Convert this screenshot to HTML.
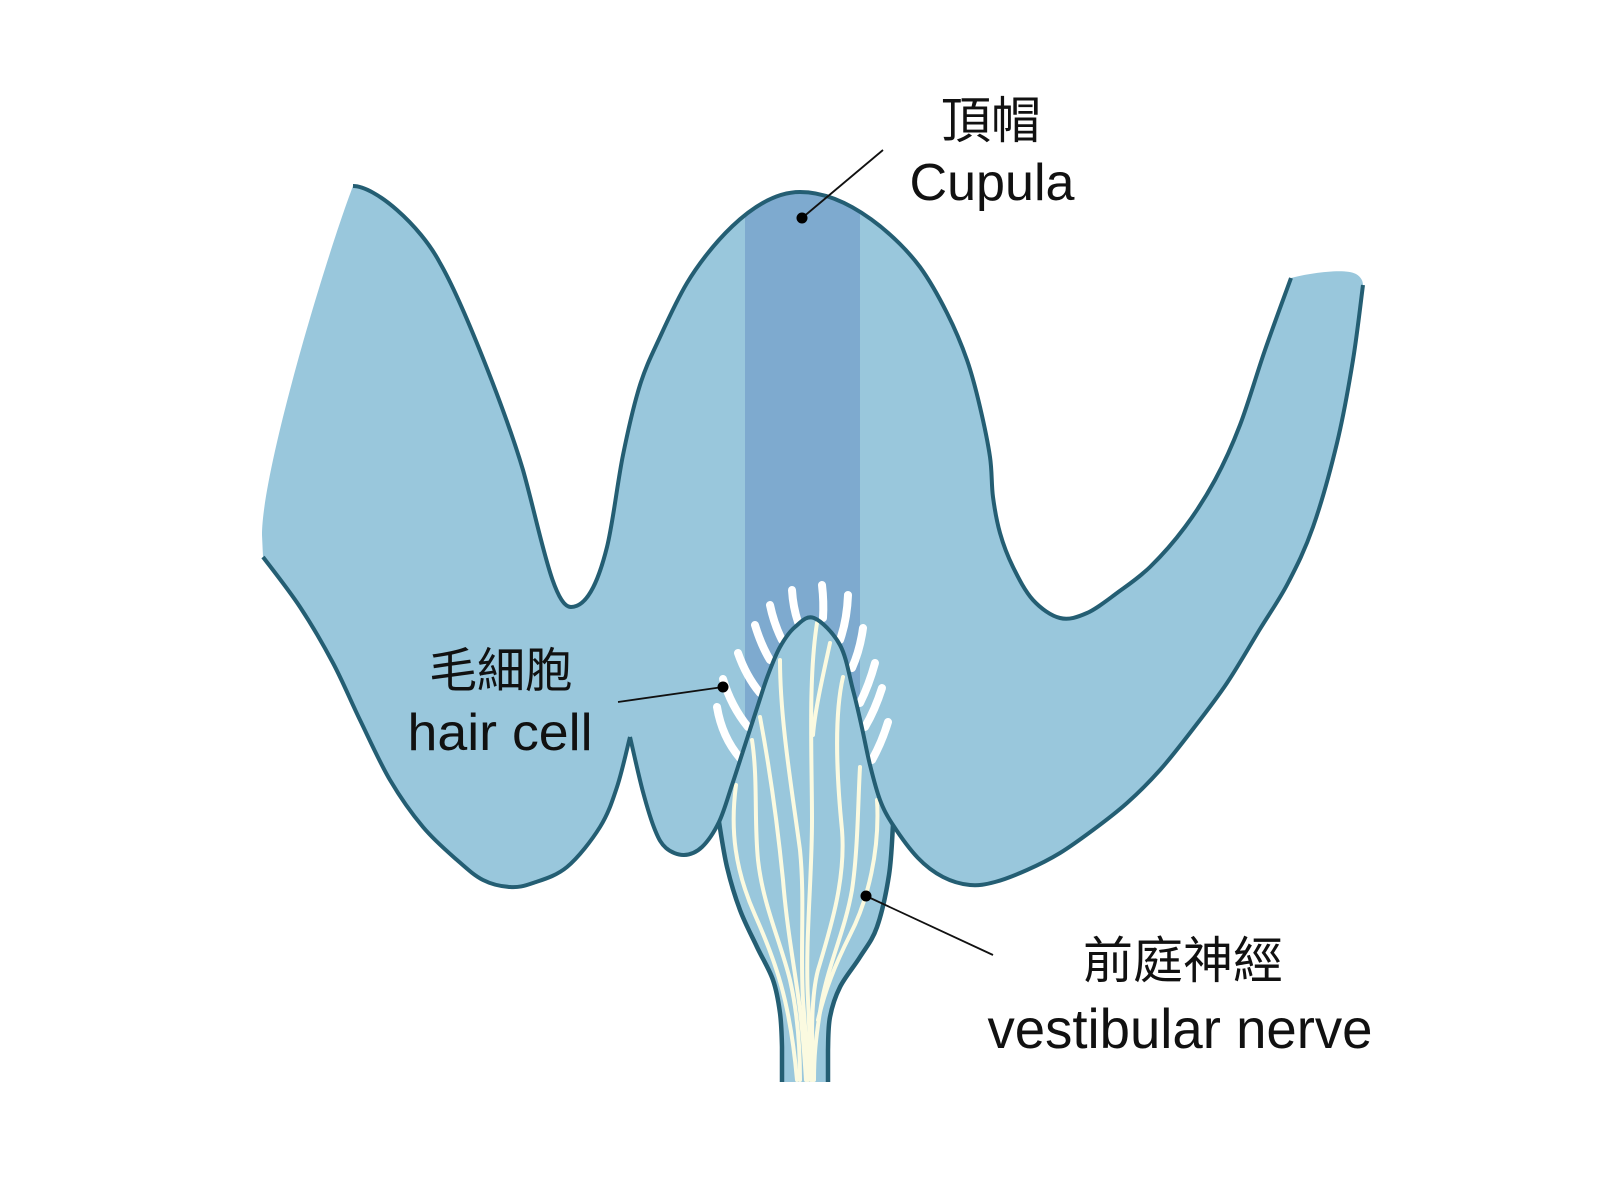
<!DOCTYPE html>
<html><head><meta charset="utf-8">
<style>html,body{margin:0;padding:0;background:#fff;width:1600px;height:1185px;overflow:hidden}</style>
</head><body>
<svg width="1600" height="1185" viewBox="0 0 1600 1185" xmlns="http://www.w3.org/2000/svg">
<defs>
<path id="bodyp" d="M353,186 C375,186 420,225 440,263 C462,301 505,410 523,470 C540,530 553,607 571,607 C589,607 600,575 607,547 C613,522.8 617.5,482 623,455 C628.5,428 633.8,404.7 640,385 C646.2,365.3 652.2,354 660,337 C667.8,320 677,299.7 687,283 C705,253 752,192 800,192 C850,192 900,240 920,267 C930,280.8 939.2,297.5 947,313 C954.8,328.5 961.5,344.3 967,360 C972.5,375.7 976.2,390.8 980,407 C983.8,423.2 987.8,442 990,457 C992.2,472 991.3,484.3 993,497 C994.7,509.7 996.7,521.3 1000,533 C1003.3,544.7 1007.5,555.8 1013,567 C1018.5,578.2 1025.2,591.5 1033,600 C1040.8,608.5 1051,615.8 1060,618 C1069,620.2 1077.5,617.2 1087,613 C1096.5,608.8 1106.5,600.7 1117,593 C1127.5,585.3 1138.7,578 1150,567 C1161.3,556 1174.2,541.5 1185,527 C1195.8,512.5 1205.8,497 1215,480 C1224.2,463 1231.7,446.7 1240,425 C1248.3,403.3 1256.5,374.5 1265,350 C1273.5,325.5 1286.7,290 1291,278 C1310,273 1345,268 1356,274 C1361,277 1363,281 1363,285 C1361.3,297.5 1357.3,333.7 1353,360 C1348.7,386.3 1343.7,415.2 1337,443 C1330.3,470.8 1321.2,503.7 1313,527 C1304.8,550.3 1296.8,566 1288,583 C1279.2,600 1270.2,612.3 1260,629 C1249.8,645.7 1238.2,666.3 1227,683 C1215.8,699.7 1204.2,714.5 1193,729 C1181.8,743.5 1171,757.7 1160,770 C1149,782.3 1138.2,793 1127,803 C1115.8,813 1104.2,821.7 1093,830 C1081.8,838.3 1071,846.3 1060,853 C1049,859.7 1037.8,865.2 1027,870 C1016.2,874.8 1004.5,879.5 995,882 C985.5,884.5 978.7,885.8 970,885 C961.3,884.2 951.7,881.5 943,877 C934.3,872.5 926.3,866.7 918,858 C909.7,849.3 899.3,834.7 893,825 C886.7,815.3 883.8,810 880,800 C876.2,790 873,777 870,765 C867,753 864.8,740.5 862,728 C859.2,715.5 856.7,703.8 853,690 C849.3,676.2 846.5,657 840,645 C833.5,633 821.5,621 814,618 C806.5,615 800.7,622.2 795,627 C789.3,631.8 784.5,639 780,647 C775.5,655 771.7,665.3 768,675 C764.3,684.7 761.8,693.3 758,705 C754.2,716.7 749.3,731.7 745,745 C740.7,758.3 736.3,772.2 732,785 C727.7,797.8 724,811.7 719,822 C714,832.3 707.8,841.5 702,847 C696.2,852.5 690,854.8 684,855 C678,855.2 670.8,852.2 666,848 C661.2,843.8 658.8,839.3 655,830 C651.2,820.7 647.2,807.5 643,792 C638.8,776.5 632.2,746.2 630,737 C627.8,745.3 622,772 617,787 C612,802 608.3,813.7 600,827 C591.7,840.3 578.2,857.7 567,867 C555.8,876.3 542.5,879.7 533,883 C523.5,886.3 518.3,887.5 510,887 C501.7,886.5 491.8,884.5 483,880 C474.2,875.5 467,868.8 457,860 C447,851.2 434.2,840.3 423,827 C411.8,813.7 400.5,797.8 390,780 C379.5,762.2 369.5,739.5 360,720 C350.5,700.5 343,681.8 333,663 C323,644.2 311.7,624.7 300,607 C288.3,589.3 269.2,565.3 263,557 L262,535 C262,470 325,260 353,186 Z"/>
<clipPath id="cb"><use href="#bodyp"/></clipPath>
</defs>

<!-- body fill -->
<use href="#bodyp" fill="#99c7dc"/>

<!-- cupula band -->
<rect x="745" y="180" width="115" height="545" fill="#7eaacf" clip-path="url(#cb)"/>

<!-- hairs -->
<g fill="none" stroke="#ffffff" stroke-width="8" stroke-linecap="round">
<path d="M717,707 Q722,737 740,758"/>
<path d="M723,679 Q731,706 748,727"/>
<path d="M738,653 Q746,676 760,693"/>
<path d="M755,625 Q761,645 770,660"/>
<path d="M770,605 Q774,624 782,640"/>
<path d="M792,590 Q793,607 798,622"/>
<path d="M822,585 Q824,602 823,618"/>
<path d="M848,595 Q847,620 840,640"/>
<path d="M863,628 Q860,650 852,668"/>
<path d="M875,663 Q869,685 860,703"/>
<path d="M882,688 Q875,710 865,727"/>
<path d="M888,722 Q882,742 872,760"/>
</g>

<!-- nerve fill (mound + tube) -->
<path fill="#99c7dc" d="M719,822 C720.3,829.5 723.5,852.3 727,867 C730.5,881.7 735,896.7 740,910 C745,923.3 751.5,935.3 757,947 C762.5,958.7 769.2,969 773,980 C776.8,991 778.5,1001.8 780,1013 C781.5,1024.2 781.7,1035.5 782,1047 C782,1053 782,1076 782,1082 L828,1082 C828,1076.7 828,1055.3 828,1050 C828.3,1039.2 828,1027.5 830,1017 C832,1006.5 835,997 840,987 C845,977 853.8,967 860,957 C866.2,947 872.2,940.7 877,927 C881.8,913.3 886.3,892.3 889,875 C891.7,857.7 892.3,833.7 893,825 C886.7,815.3 883.8,810 880,800 C876.2,790 873,777 870,765 C867,753 864.8,740.5 862,728 C859.2,715.5 856.7,703.8 853,690 C849.3,676.2 846.5,657 840,645 C833.5,633 821.5,621 814,618 C806.5,615 800.7,622.2 795,627 C789.3,631.8 784.5,639 780,647 C775.5,655 771.7,665.3 768,675 C764.3,684.7 761.8,693.3 758,705 C754.2,716.7 749.3,731.7 745,745 C740.7,758.3 736.3,772.2 732,785 C727.7,797.8 724,811.7 719,822 Z"/>

<!-- nerve fibers -->
<g fill="none" stroke="#fbfae0" stroke-width="4" stroke-linecap="round">
<path d="M736,785 C730,830 735,870 755,915 C775,960 790,1000 797,1080"/>
<path d="M752,740 C758,780 754,820 758,860 C763,905 780,940 790,980 C798,1015 800,1050 800,1080"/>
<path d="M760,717 C770,770 778,830 783,880 C787,930 795,970 800,1010 C804,1045 805,1065 806,1080"/>
<path d="M780,660 C780,720 792,790 800,850 C805,900 800,950 803,1000 C806,1040 808,1060 808,1080"/>
<path d="M817,623 C808,680 812,760 812,820 C812,880 805,940 808,1000 C810,1040 810,1060 811,1080"/>
<path d="M830,643 C822,680 815,710 813,735"/>
<path d="M843,677 C833,720 838,790 842,830 C846,880 830,930 818,970 C810,1000 812,1050 813,1080"/>
<path d="M860,767 C858,800 858,850 852,890 C845,930 830,960 822,1000 C815,1040 814,1060 814,1080"/>
<path d="M877,800 C880,850 868,900 850,935 C835,965 825,990 818,1020"/>
</g>

<!-- outlines -->
<g fill="none" stroke="#245e73" stroke-width="4" stroke-linejoin="round">
<path d="M353,186 C375,186 420,225 440,263 C462,301 505,410 523,470 C540,530 553,607 571,607 C589,607 600,575 607,547 C613,522.8 617.5,482 623,455 C628.5,428 633.8,404.7 640,385 C646.2,365.3 652.2,354 660,337 C667.8,320 677,299.7 687,283 C705,253 752,192 800,192 C850,192 900,240 920,267 C930,280.8 939.2,297.5 947,313 C954.8,328.5 961.5,344.3 967,360 C972.5,375.7 976.2,390.8 980,407 C983.8,423.2 987.8,442 990,457 C992.2,472 991.3,484.3 993,497 C994.7,509.7 996.7,521.3 1000,533 C1003.3,544.7 1007.5,555.8 1013,567 C1018.5,578.2 1025.2,591.5 1033,600 C1040.8,608.5 1051,615.8 1060,618 C1069,620.2 1077.5,617.2 1087,613 C1096.5,608.8 1106.5,600.7 1117,593 C1127.5,585.3 1138.7,578 1150,567 C1161.3,556 1174.2,541.5 1185,527 C1195.8,512.5 1205.8,497 1215,480 C1224.2,463 1231.7,446.7 1240,425 C1248.3,403.3 1256.5,374.5 1265,350 C1273.5,325.5 1286.7,290 1291,278"/>
<path d="M1363,285 C1361.3,297.5 1357.3,333.7 1353,360 C1348.7,386.3 1343.7,415.2 1337,443 C1330.3,470.8 1321.2,503.7 1313,527 C1304.8,550.3 1296.8,566 1288,583 C1279.2,600 1270.2,612.3 1260,629 C1249.8,645.7 1238.2,666.3 1227,683 C1215.8,699.7 1204.2,714.5 1193,729 C1181.8,743.5 1171,757.7 1160,770 C1149,782.3 1138.2,793 1127,803 C1115.8,813 1104.2,821.7 1093,830 C1081.8,838.3 1071,846.3 1060,853 C1049,859.7 1037.8,865.2 1027,870 C1016.2,874.8 1004.5,879.5 995,882 C985.5,884.5 978.7,885.8 970,885 C961.3,884.2 951.7,881.5 943,877 C934.3,872.5 926.3,866.7 918,858 C909.7,849.3 899.3,834.7 893,825 C886.7,815.3 883.8,810 880,800 C876.2,790 873,777 870,765 C867,753 864.8,740.5 862,728 C859.2,715.5 856.7,703.8 853,690 C849.3,676.2 846.5,657 840,645 C833.5,633 821.5,621 814,618 C806.5,615 800.7,622.2 795,627 C789.3,631.8 784.5,639 780,647 C775.5,655 771.7,665.3 768,675 C764.3,684.7 761.8,693.3 758,705 C754.2,716.7 749.3,731.7 745,745 C740.7,758.3 736.3,772.2 732,785 C727.7,797.8 724,811.7 719,822 C714,832.3 707.8,841.5 702,847 C696.2,852.5 690,854.8 684,855 C678,855.2 670.8,852.2 666,848 C661.2,843.8 658.8,839.3 655,830 C651.2,820.7 647.2,807.5 643,792 C638.8,776.5 632.2,746.2 630,737"/>
<path d="M630,737 C627.8,745.3 622,772 617,787 C612,802 608.3,813.7 600,827 C591.7,840.3 578.2,857.7 567,867 C555.8,876.3 542.5,879.7 533,883 C523.5,886.3 518.3,887.5 510,887 C501.7,886.5 491.8,884.5 483,880 C474.2,875.5 467,868.8 457,860 C447,851.2 434.2,840.3 423,827 C411.8,813.7 400.5,797.8 390,780 C379.5,762.2 369.5,739.5 360,720 C350.5,700.5 343,681.8 333,663 C323,644.2 311.7,624.7 300,607 C288.3,589.3 269.2,565.3 263,557"/>
</g>
<g fill="none" stroke="#245e73" stroke-width="4.5">
<path d="M719,822 C720.3,829.5 723.5,852.3 727,867 C730.5,881.7 735,896.7 740,910 C745,923.3 751.5,935.3 757,947 C762.5,958.7 769.2,969 773,980 C776.8,991 778.5,1001.8 780,1013 C781.5,1024.2 781.7,1035.5 782,1047 C782,1053 782,1076 782,1082"/>
<path d="M893,825 C892.3,833.7 891.7,857.7 889,875 C886.3,892.3 881.8,913.3 877,927 C872.2,940.7 866.2,947 860,957 C853.8,967 845,977 840,987 C835,997 832,1006.5 830,1017 C828,1027.5 828.3,1039.2 828,1050 C828,1055.3 828,1076.7 828,1082"/>
</g>

<!-- leader lines -->
<g stroke="#111" stroke-width="1.8" fill="none">
<line x1="802" y1="218" x2="883" y2="150"/>
<line x1="618" y1="702" x2="723" y2="687"/>
<line x1="866" y1="896" x2="993" y2="955"/>
</g>
<g fill="#000">
<circle cx="802" cy="218" r="5.5"/>
<circle cx="723" cy="687" r="5.5"/>
<circle cx="866" cy="896" r="5.5"/>
</g>

<!-- labels -->
<g fill="#111" text-anchor="middle">
<text x="991" y="138" font-family="'Liberation Sans','Noto Sans CJK TC',sans-serif" font-size="50">頂帽</text>
<text x="992" y="200" font-family="'Liberation Sans',sans-serif" font-size="52" textLength="165" lengthAdjust="spacingAndGlyphs">Cupula</text>
<text x="501" y="687" font-family="'Liberation Sans','Noto Sans CJK TC',sans-serif" font-size="48">毛細胞</text>
<text x="500" y="750" font-family="'Liberation Sans',sans-serif" font-size="52" textLength="185" lengthAdjust="spacingAndGlyphs">hair cell</text>
<text x="1183" y="978" font-family="'Liberation Sans','Noto Sans CJK TC',sans-serif" font-size="50">前庭神經</text>
<text x="1180" y="1048" font-family="'Liberation Sans',sans-serif" font-size="56" textLength="385" lengthAdjust="spacingAndGlyphs">vestibular nerve</text>
</g>
</svg>
</body></html>
